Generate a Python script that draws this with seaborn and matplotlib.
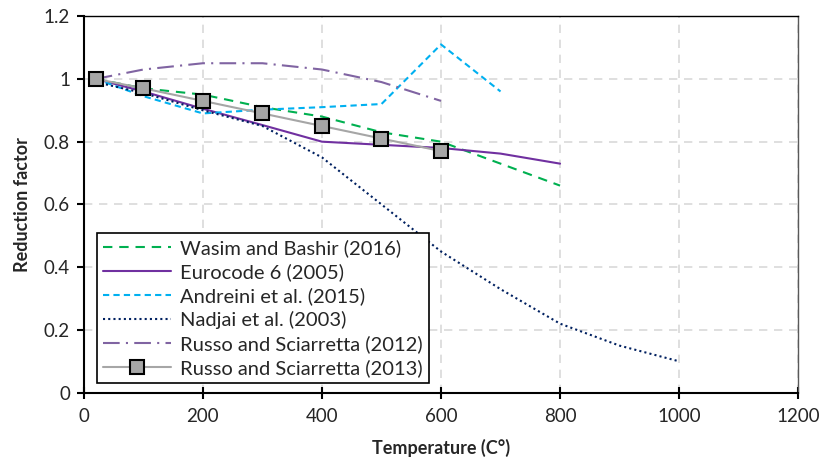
import matplotlib
matplotlib.use("Agg")
import matplotlib.pyplot as plt
import seaborn as sns
import pandas as pd

# Data
wasim_T = [20, 100, 200, 300, 400, 500, 600, 700, 800]
wasim_R = [1.0, 0.97, 0.95, 0.91, 0.88, 0.83, 0.80, 0.73, 0.66]

euro_T = [20, 100, 200, 300, 400, 500, 600, 700, 800]
euro_R = [1.0, 0.96, 0.905, 0.853, 0.80, 0.79, 0.78, 0.762, 0.73]

andreini_T = [20, 100, 200, 300, 400, 500, 600, 700]
andreini_R = [1.0, 0.945, 0.89, 0.902, 0.91, 0.92, 1.11, 0.96]

nadjai_T = [20, 100, 200, 300, 400, 500, 600, 700, 800, 900, 1000]
nadjai_R = [0.99, 0.955, 0.90, 0.85, 0.75, 0.60, 0.45, 0.33, 0.22, 0.15, 0.10]

russo12_T = [20, 100, 200, 300, 400, 500, 600]
russo12_R = [1.0, 1.03, 1.05, 1.05, 1.03, 0.99, 0.93]

russo13_T = [20, 100, 200, 300, 400, 500, 600]
russo13_R = [1.0, 0.97, 0.93, 0.89, 0.85, 0.81, 0.77]

labels = ["Wasim and Bashir (2016)", "Eurocode 6 (2005)", "Andreini et al. (2015)",
          "Nadjai et al. (2003)", "Russo and Sciarretta (2012)", "Russo and Sciarretta (2013)"]

sns.set_theme(style="white")
plt.rcParams['font.family'] = ['Lato', 'DejaVu Sans']

fig = plt.figure(figsize=(8.22, 4.62), dpi=100)
ax = fig.add_axes([0.102, 0.150, 0.869, 0.815])

series = [
    (wasim_T, wasim_R, dict(color="#00B050", linestyle=(0, (4.5, 3.3)), linewidth=1.5)),
    (euro_T, euro_R, dict(color="#7030A0", linestyle="-", linewidth=1.5)),
    (andreini_T, andreini_R, dict(color="#00B0F0", linestyle=(0, (3, 2)), linewidth=1.5)),
    (nadjai_T, nadjai_R, dict(color="#002060", linestyle=(0, (1, 1.5)), linewidth=1.5)),
    (russo12_T, russo12_R, dict(color="#8064A2", linestyle=(0, (8, 3, 1, 3)), linewidth=1.5)),
]
for (T, R, kw), lab in zip(series, labels[:5]):
    df = pd.DataFrame({"T": T, "R": R})
    sns.lineplot(data=df, x="T", y="R", ax=ax, label=lab, **kw)

df13 = pd.DataFrame({"T": russo13_T, "R": russo13_R})
sns.lineplot(data=df13, x="T", y="R", ax=ax, label=labels[5], color="#A6A6A6",
             linewidth=1.5, marker="s", markersize=10, markerfacecolor="#A6A6A6",
             markeredgecolor="black", markeredgewidth=1.5)

ax.set_xlim(0, 1200)
ax.set_ylim(0, 1.2)
ax.set_xticks([0, 200, 400, 600, 800, 1000, 1200])
ax.set_yticks([0, 0.2, 0.4, 0.6, 0.8, 1.0, 1.2])
ax.set_yticklabels(["0", "0.2", "0.4", "0.6", "0.8", "1", "1.2"])
ax.grid(True, color="#D9D9D9", linestyle=(0, (5, 4)), linewidth=1.2)
ax.set_axisbelow(True)

ax.spines['left'].set_color("black")
ax.spines['left'].set_linewidth(1.5)
ax.spines['bottom'].set_color("black")
ax.spines['bottom'].set_linewidth(1.5)
ax.spines['top'].set_color("black")
ax.spines['top'].set_linewidth(1.0)
ax.spines['right'].set_color("#595959")
ax.spines['right'].set_linewidth(1.0)

ax.tick_params(axis='x', direction='inout', length=8, width=1.5, colors='black', labelsize=13.5, pad=7)
ax.tick_params(axis='y', direction='out', length=5, width=1.5, colors='black', labelsize=13.5, left=True, pad=5)
ax.tick_params(axis='x', bottom=True)
for t in ax.get_xticklabels() + ax.get_yticklabels():
    t.set_color("#262626")

ax.set_xlabel("Temperature (C°)", fontsize=13, fontweight="bold", labelpad=10)
ax.set_ylabel("Reduction factor", fontsize=13, fontweight="bold", labelpad=9)

leg = ax.legend(loc="lower left", bbox_to_anchor=(0.018, 0.025), fontsize=14.5,
                frameon=True, fancybox=False, edgecolor="black", framealpha=1,
                handlelength=3.4, borderpad=0.3, labelspacing=0.3, handletextpad=0.45,
                borderaxespad=0)
leg.get_frame().set_linewidth(1.2)

fig.savefig("out.png", dpi=100)
